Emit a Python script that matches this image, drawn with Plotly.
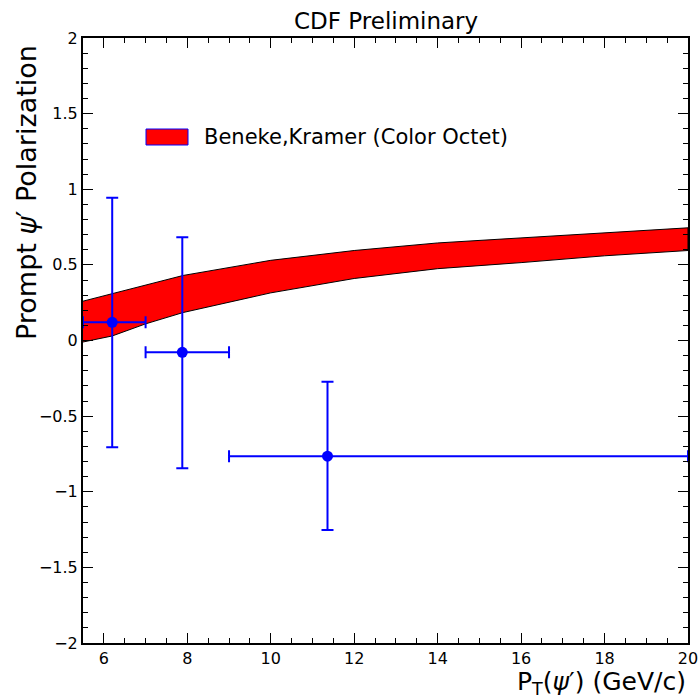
import plotly.graph_objects as go

# Theory band (Beneke, Kramer - Color Octet)
band_x = [5.5, 6.2, 7.0, 7.9, 10.0, 12.0, 14.0, 16.0, 18.0, 20.0]
band_upper = [0.26, 0.31, 0.37, 0.43, 0.53, 0.595, 0.645, 0.68, 0.715, 0.745]
band_lower = [-0.01, 0.03, 0.11, 0.185, 0.315, 0.41, 0.475, 0.515, 0.56, 0.595]

# CDF data points
pt = [6.2, 7.88, 11.36]
pol = [0.12, -0.078, -0.765]
pt_low = [5.5, 7.0, 9.0]
pt_high = [7.0, 9.0, 20.0]
pol_low = [-0.706, -0.845, -1.253]
pol_high = [0.944, 0.683, -0.272]

x_ticks = [6, 8, 10, 12, 14, 16, 18, 20]
y_ticks = [-2, -1.5, -1, -0.5, 0, 0.5, 1, 1.5, 2]
y_tick_text = ["\u22122", "\u22121.5", "\u22121", "\u22120.5", "0", "0.5", "1", "1.5", "2"]

FONT = "DejaVu Sans, Liberation Sans, sans-serif"
BLUE = "#0000ff"

fig = go.Figure()

fig.add_trace(go.Scatter(
    x=band_x + band_x[::-1],
    y=band_upper + band_lower[::-1],
    fill="toself", fillcolor="#ff0000",
    line=dict(color="black", width=1),
    mode="lines", hoverinfo="skip", showlegend=False,
))

fig.add_trace(go.Scatter(
    x=pt, y=pol, mode="markers",
    marker=dict(color=BLUE, size=11, symbol="circle"),
    error_x=dict(type="data", symmetric=False,
                 array=[h - x for h, x in zip(pt_high, pt)],
                 arrayminus=[x - l for l, x in zip(pt_low, pt)],
                 color=BLUE, thickness=2, width=6),
    error_y=dict(type="data", symmetric=False,
                 array=[h - y for h, y in zip(pol_high, pol)],
                 arrayminus=[y - l for l, y in zip(pol_low, pol)],
                 color=BLUE, thickness=2, width=6),
    showlegend=False, cliponaxis=False,
))

axis_common = dict(
    showgrid=False, zeroline=False, showline=True, linecolor="black", linewidth=2,
    mirror="ticks", ticks="inside", ticklen=10, tickwidth=1, tickcolor="black",
    tickfont=dict(family=FONT, size=16, color="black"), automargin=False,
)

fig.update_xaxes(
    range=[5.5, 20], tickvals=x_ticks, ticktext=[str(v) for v in x_ticks],
    minor=dict(ticks="inside", ticklen=5, dtick=0.5, tick0=0, tickcolor="black", tickwidth=1),
    **axis_common,
)
fig.update_yaxes(
    range=[-2, 2], tickvals=y_ticks, ticktext=y_tick_text,
    minor=dict(ticks="inside", ticklen=5, dtick=0.1, tick0=0, tickcolor="black", tickwidth=1),
    **axis_common,
)

fig.update_layout(
    width=700, height=700,
    margin=dict(l=83, r=12, t=38, b=57),
    plot_bgcolor="white", paper_bgcolor="white",
    showlegend=False,
    shapes=[dict(type="rect", xref="paper", yref="paper",
                 x0=(146 - 83) / 605, x1=(188 - 83) / 605,
                 y0=(643 - 145) / 605, y1=(643 - 129) / 605,
                 fillcolor="#ff0000", line=dict(color=BLUE, width=1))],
    annotations=[
        dict(text="CDF Preliminary", xref="paper", yref="paper", x=0.5, y=1.0,
             yshift=2, xanchor="center", yanchor="bottom", showarrow=False,
             font=dict(family=FONT, size=23, color="black")),
        dict(text="Beneke,Kramer (Color Octet)", xref="paper", yref="paper",
             x=(202 - 83) / 605, y=(643 - 137) / 605, xanchor="left", yanchor="middle",
             showarrow=False, font=dict(family=FONT, size=21, color="black")),
        dict(text="Prompt <i>\u03c8</i>\u2032 Polarization", xref="paper", yref="paper",
             x=(26 - 83) / 605, y=(643 - 193) / 605, xanchor="center", yanchor="middle",
             textangle=-90, showarrow=False,
             font=dict(family=FONT, size=27, color="black")),
        dict(text="P<sub>T</sub>(<i>\u03c8</i>\u2032) (GeV/c)", xref="paper", yref="paper",
             x=1.0, y=0, yshift=-22, xanchor="right", yanchor="top", showarrow=False,
             font=dict(family=FONT, size=25, color="black")),
    ],
)

fig.write_html("out.html", config={"displayModeBar": False},
               post_script="document.body.style.margin='0';document.body.style.overflow='hidden';")
